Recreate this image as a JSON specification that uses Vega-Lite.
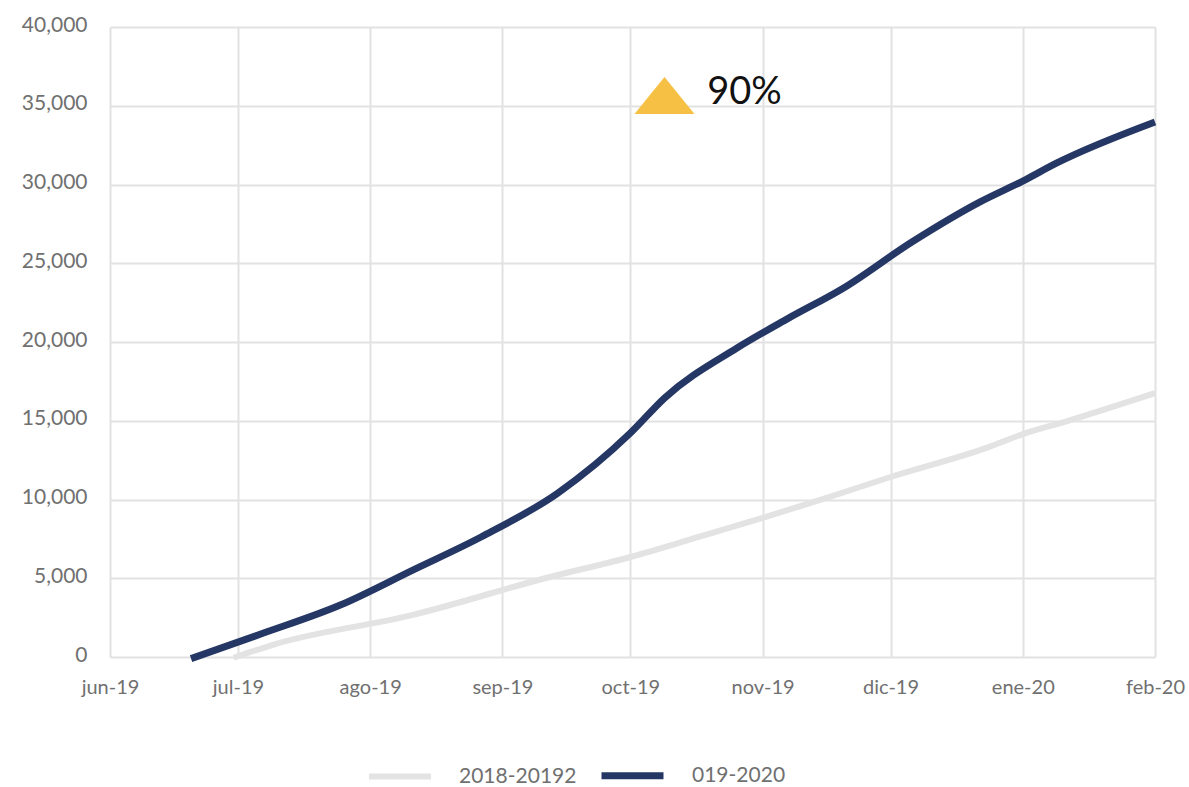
{
  "$schema": "https://vega.github.io/schema/vega-lite/v6.json",
  "width": 1045,
  "height": 630,
  "autosize": {"type": "none"},
  "padding": {"left": 110, "top": 27, "right": 34, "bottom": 130},
  "background": "white",
  "config": {
    "view": {"stroke": null},
    "font": "Lato",
    "axis": {"labelFont": "Lato", "labelFontSize": 20, "labelColor": "#707070", "gridColor": "#e2e2e2", "gridWidth": 2, "domain": false, "ticks": false}
  },
  "layer": [
    {
      "data": {
        "values": [
          {"fecha": "2019-06-30", "serie": "2018-2019", "valor": -50},
          {"fecha": "2019-07-09", "serie": "2018-2019", "valor": 760},
          {"fecha": "2019-08-11", "serie": "2018-2019", "valor": 2670},
          {"fecha": "2019-09-11", "serie": "2018-2019", "valor": 5000},
          {"fecha": "2019-10-01", "serie": "2018-2019", "valor": 6350},
          {"fecha": "2019-10-17", "serie": "2018-2019", "valor": 7620},
          {"fecha": "2019-11-01", "serie": "2018-2019", "valor": 8830},
          {"fecha": "2019-11-16", "serie": "2018-2019", "valor": 10100},
          {"fecha": "2019-12-01", "serie": "2018-2019", "valor": 11430},
          {"fecha": "2019-12-24", "serie": "2018-2019", "valor": 13330},
          {"fecha": "2020-01-01", "serie": "2018-2019", "valor": 14150},
          {"fecha": "2020-01-11", "serie": "2018-2019", "valor": 14950},
          {"fecha": "2020-02-01", "serie": "2018-2019", "valor": 16760},
          {"fecha": "2019-06-20", "serie": "2019-2020", "valor": -100},
          {"fecha": "2019-07-07", "serie": "2019-2020", "valor": 1520},
          {"fecha": "2019-07-25", "serie": "2019-2020", "valor": 3300},
          {"fecha": "2019-08-11", "serie": "2019-2020", "valor": 5520},
          {"fecha": "2019-08-27", "serie": "2019-2020", "valor": 7620},
          {"fecha": "2019-09-14", "serie": "2019-2020", "valor": 10410},
          {"fecha": "2019-10-01", "serie": "2019-2020", "valor": 14220},
          {"fecha": "2019-10-09", "serie": "2019-2020", "valor": 16440},
          {"fecha": "2019-10-26", "serie": "2019-2020", "valor": 19620},
          {"fecha": "2019-11-07", "serie": "2019-2020", "valor": 21500},
          {"fecha": "2019-11-20", "serie": "2019-2020", "valor": 23430},
          {"fecha": "2019-12-06", "serie": "2019-2020", "valor": 26350},
          {"fecha": "2019-12-22", "serie": "2019-2020", "valor": 28900},
          {"fecha": "2020-01-01", "serie": "2019-2020", "valor": 30220},
          {"fecha": "2020-01-09", "serie": "2019-2020", "valor": 31370},
          {"fecha": "2020-02-01", "serie": "2019-2020", "valor": 33970}
        ]
      },
      "mark": {"type": "line", "strokeCap": "butt", "strokeJoin": "round", "interpolate": "monotone"},
      "encoding": {
        "x": {
          "field": "fecha",
          "type": "temporal",
          "scale": {"type": "utc", "domain": [{"year": 2019, "month": 6, "date": 1, "utc": true}, {"year": 2020, "month": 2, "date": 1, "utc": true}]},
          "axis": {
            "title": null,
            "values": [
              {"year": 2019, "month": 6, "date": 1, "utc": true},
              {"year": 2019, "month": 7, "date": 1, "utc": true},
              {"year": 2019, "month": 8, "date": 1, "utc": true},
              {"year": 2019, "month": 9, "date": 1, "utc": true},
              {"year": 2019, "month": 10, "date": 1, "utc": true},
              {"year": 2019, "month": 11, "date": 1, "utc": true},
              {"year": 2019, "month": 12, "date": 1, "utc": true},
              {"year": 2020, "month": 1, "date": 1, "utc": true},
              {"year": 2020, "month": 2, "date": 1, "utc": true}
            ],
            "labelExpr": "['ene','feb','mar','abr','may','jun','jul','ago','sep','oct','nov','dic'][utcmonth(datum.value)] + '-' + utcFormat(datum.value, '%y')",
            "labelPadding": 20,
            "labelFlush": false,
            "labelOverlap": false
          }
        },
        "y": {
          "field": "valor",
          "type": "quantitative",
          "scale": {"domain": [0, 40000], "nice": false, "zero": true},
          "axis": {"title": null, "values": [0, 5000, 10000, 15000, 20000, 25000, 30000, 35000, 40000], "format": ",.0f", "labelPadding": 23, "labelOffset": -2, "labelFontSize": 21}
        },
        "strokeWidth": {
          "field": "serie",
          "type": "nominal",
          "scale": {"domain": ["2018-2019", "2019-2020"], "range": [6, 7]},
          "legend": null
        },
        "color": {
          "field": "serie",
          "type": "nominal",
          "scale": {"domain": ["2018-2019", "2019-2020"], "range": ["#e3e3e3", "#253764"]},
          "legend": {
            "title": null,
            "orient": "none",
            "direction": "horizontal",
            "legendX": 256,
            "legendY": 714,
            "symbolType": "stroke",
            "symbolSize": 3844,
            "symbolStrokeWidth": 8,
            "labelFont": "Lato",
            "labelFontSize": 21,
            "labelColor": "#707070",
            "labelOffset": 25,
            "columnPadding": 10,
            "labelExpr": "datum.label == '2018-2019' ? '2018-20192' : '019-2020'"
          }
        }
      }
    },
    {
      "data": {"values": [{"fecha": "2019-10-09", "valor": 35650}]},
      "mark": {"type": "point", "shape": "M-1,0.62L0,-0.62L1,0.62Z", "size": 3600, "filled": true, "color": "#f5c044", "opacity": 1},
      "encoding": {
        "x": {"field": "fecha", "type": "temporal"},
        "y": {"field": "valor", "type": "quantitative"}
      }
    },
    {
      "data": {"values": [{"fecha": "2019-10-19", "valor": 35800, "texto": "90%"}]},
      "mark": {"type": "text", "align": "left", "baseline": "middle", "fontSize": 38, "font": "Lato", "color": "#111111"},
      "encoding": {
        "x": {"field": "fecha", "type": "temporal"},
        "y": {"field": "valor", "type": "quantitative"},
        "text": {"field": "texto"}
      }
    }
  ]
}
